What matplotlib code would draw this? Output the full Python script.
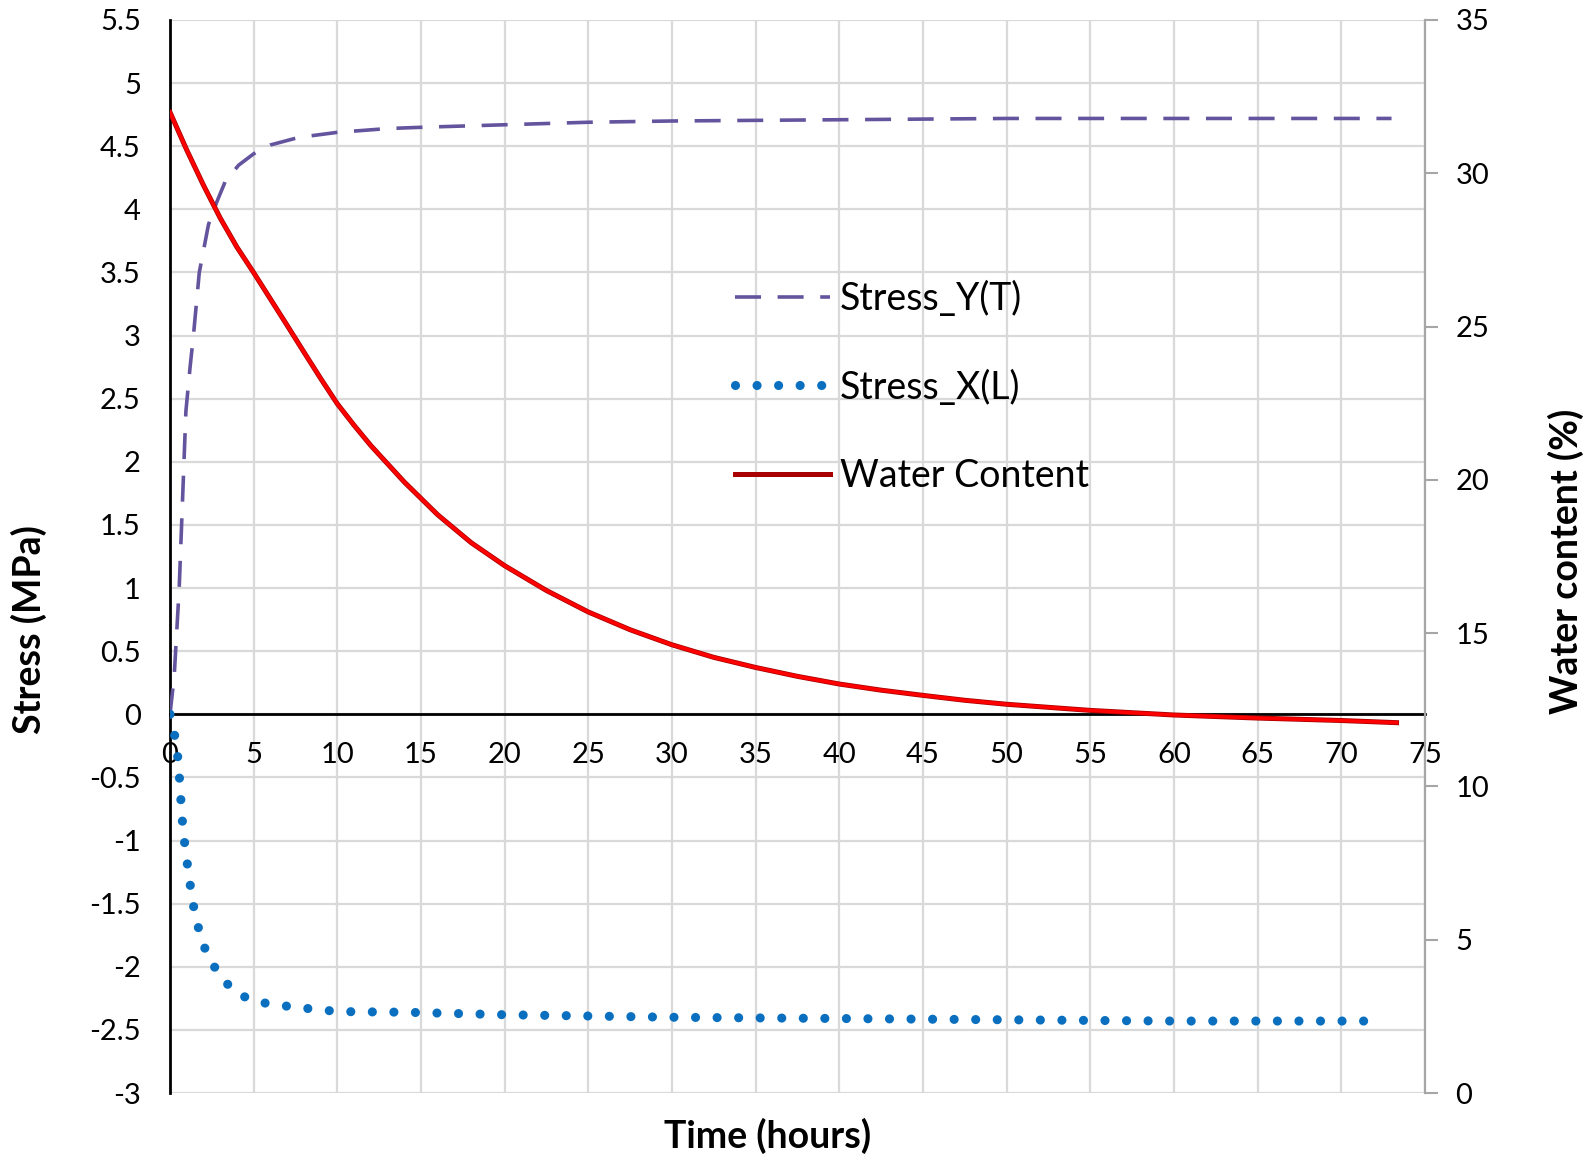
import matplotlib
matplotlib.use("Agg")
import matplotlib.pyplot as plt

plt.rcParams['font.family'] = ['Lato', 'DejaVu Sans']

# time axis (hours) and readings taken off the chart
stress_y_t = [0, 0.25, 0.55, 0.75, 0.95, 1.2, 1.4, 1.75, 2.3, 2.8, 3.3, 4.1, 5.0, 6.0, 7.7,
              10, 13, 15, 20, 25, 30, 40, 50, 60, 73]
stress_y = [0, 0.3, 1.0, 1.7, 2.4, 2.75, 3.0, 3.5, 3.88, 4.06, 4.22, 4.35, 4.44, 4.51, 4.57,
            4.61, 4.64, 4.65, 4.67, 4.69, 4.70, 4.71, 4.72, 4.72, 4.72]

stress_x_t = [0, 0.3, 0.48, 0.58, 0.66, 0.76, 0.9, 1.08, 1.26, 1.47, 1.79, 2.23, 2.89, 3.77,
              4.92, 6.22, 7.5, 8.87, 10.1, 14, 20, 30, 40, 50, 60, 72.3]
stress_x = [0, -0.18, -0.355, -0.53, -0.70, -0.88, -1.05, -1.23, -1.40, -1.57, -1.74, -1.91,
            -2.05, -2.19, -2.27, -2.30, -2.32, -2.34, -2.355, -2.36, -2.38, -2.40, -2.41,
            -2.42, -2.43, -2.43]

wc_t = [0, 1, 2, 3, 4, 5, 6, 7, 8, 9, 10, 11, 12, 14, 16, 18, 20, 22.5, 25, 27.5, 30,
        32.5, 35, 37.5, 40, 42.5, 45, 47.5, 50, 55, 60, 65, 70, 73.3]
water = [31.99, 30.76, 29.61, 28.54, 27.59, 26.76, 25.90, 25.04, 24.17, 23.31, 22.48,
         21.78, 21.12, 19.93, 18.86, 17.95, 17.20, 16.39, 15.69, 15.11, 14.62, 14.21,
         13.88, 13.59, 13.34, 13.14, 12.97, 12.81, 12.68, 12.48, 12.33, 12.23, 12.15, 12.08]

x_ticks = list(range(0, 80, 5))
stress_ticks = [-3, -2.5, -2, -1.5, -1, -0.5, 0, 0.5, 1, 1.5, 2, 2.5, 3, 3.5, 4, 4.5, 5, 5.5]
water_ticks = [0, 5, 10, 15, 20, 25, 30, 35]

W, H = 1594, 1166
fig = plt.figure(figsize=(W / 100, H / 100), dpi=100)
ax = fig.add_axes([170 / W, 1 - 1093 / H, (1425 - 170) / W, (1093 - 20) / H])
ax2 = ax.twinx()

grid_c = '#D9D9D9'
ax.set_xlim(0, 75)
ax.set_ylim(-3, 5.5)
ax.set_xticks(x_ticks)
ax.set_xticklabels([str(v) for v in x_ticks])
ax.set_yticks(stress_ticks)
ax.set_yticklabels(['{:g}'.format(v) for v in stress_ticks])
ax.grid(True, color=grid_c, lw=1.6)
ax.set_axisbelow(True)
ax.tick_params(axis='both', length=0, labelsize=21, colors='black')
ax.tick_params(axis='y', pad=21)
ax.tick_params(axis='x', pad=20)

ax.spines['top'].set_visible(False)
ax.spines['right'].set_visible(False)
ax.spines['left'].set_color('black')
ax.spines['left'].set_linewidth(2)
ax.spines['bottom'].set_position(('data', 0))
ax.spines['bottom'].set_color('black')
ax.spines['bottom'].set_linewidth(2)

l_y, = ax.plot(stress_y_t, stress_y, color='#64549E', lw=2.6,
               linestyle=(0, (7.2, 4.6)), label='Stress_Y(T)', zorder=3)
l_x, = ax.plot(stress_x_t, stress_x, color='#0A6FBF', lw=6.6,
               linestyle=(0, (0.001, 2.35)), dash_capstyle='round',
               label='Stress_X(L)', zorder=3)

ax2.set_ylim(0, 35)
ax2.set_yticks(water_ticks)
ax2.set_yticklabels([str(v) for v in water_ticks])
for s in ['top', 'left', 'bottom']:
    ax2.spines[s].set_visible(False)
ax2.spines['right'].set_color('#A6A6A6')
ax2.spines['right'].set_linewidth(1.6)
ax2.tick_params(axis='y', length=9, width=1.5, color='#A6A6A6', direction='out',
                labelsize=21, labelcolor='black', pad=13)

l_w, = ax2.plot(wc_t, water, color='#A80000', lw=3.6, label='Water Content')
ax2.plot(wc_t, water, color='#FF0000', lw=2.5)

ax2.legend([l_y, l_x, l_w], ['Stress_Y(T)', 'Stress_X(L)', 'Water Content'],
           loc='upper left', bbox_to_anchor=(716 / W, 1 - 262 / H),
           bbox_transform=fig.transFigure, frameon=False, fontsize=27,
           handlelength=2.55, handletextpad=0.25, labelspacing=1.4, borderpad=0)

fig.text(29 / W, 1 - 630 / H, 'Stress (MPa)', rotation=90, ha='center', va='center',
         fontsize=27, fontweight='bold')
fig.text(1566 / W, 1 - 561 / H, 'Water content (%)', rotation=90, ha='center',
         va='center', fontsize=27, fontweight='bold')
fig.text(768 / W, 1 - 1136 / H, 'Time (hours)', ha='center', va='center',
         fontsize=27, fontweight='bold')

fig.savefig('out.png', dpi=100, facecolor='white')
